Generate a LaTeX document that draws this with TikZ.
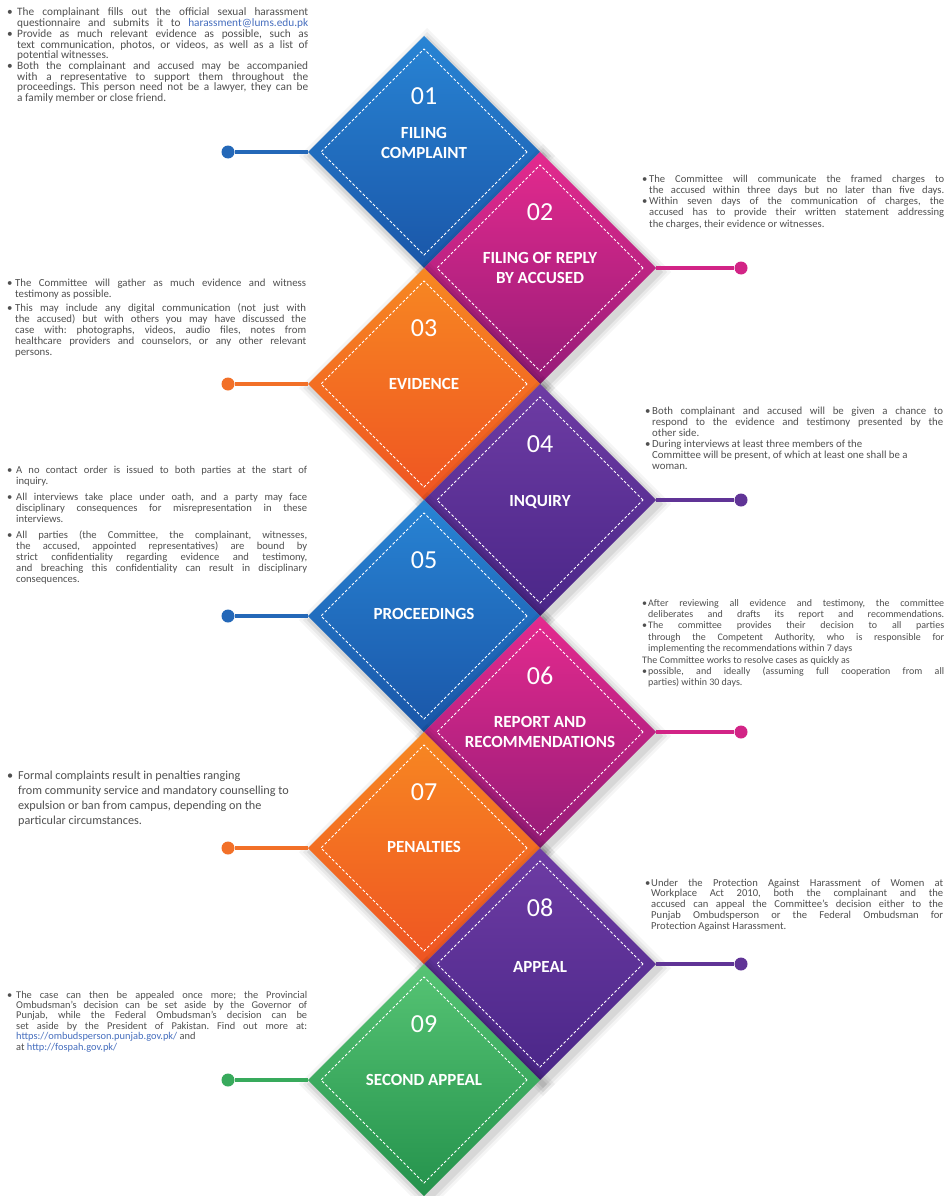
\documentclass[tikz,border=0pt]{standalone}
\usepackage{fontspec}
\setmainfont{Carlito}
\usetikzlibrary{shapes.geometric}
\definecolor{txt}{RGB}{80,80,80}
\definecolor{lnk}{RGB}{70,110,190}
\definecolor{blT}{RGB}{40,132,212}
\definecolor{blB}{RGB}{26,86,168}
\definecolor{blL}{RGB}{36,104,184}
\definecolor{mgT}{RGB}{228,42,142}
\definecolor{mgB}{RGB}{150,28,120}
\definecolor{mgL}{RGB}{210,36,134}
\definecolor{orT}{RGB}{247,136,34}
\definecolor{orB}{RGB}{239,84,34}
\definecolor{orL}{RGB}{242,112,40}
\definecolor{puT}{RGB}{110,60,164}
\definecolor{puB}{RGB}{74,38,136}
\definecolor{puL}{RGB}{96,52,150}
\definecolor{grT}{RGB}{86,196,116}
\definecolor{grB}{RGB}{36,146,76}
\definecolor{grL}{RGB}{56,170,92}
\newlength\bi
\newcommand\xInit[3]{\fontsize{#1}{#2}\selectfont\spaceskip=0pt\xspaceskip=0pt\frenchspacing\setlength\bi{#3}}
\newcommand\xBJ[1]{\noindent\hbox to\bi{\textbullet\hss}\hbox to\dimexpr\hsize-\bi\relax{#1}\par}
\newcommand\xCJ[1]{\noindent\hbox to\bi{}\hbox to\dimexpr\hsize-\bi\relax{#1}\par}
\newcommand\xCR[1]{\noindent\hbox to\bi{}#1\par}
\newcommand\xBR[1]{\noindent\hbox to\bi{\textbullet\hss}#1\par}
\newcommand\xNR[1]{\noindent #1\par}
\begin{document}
\begin{tikzpicture}[x=1pt,y=-1pt,
 dmd/.style={diamond,aspect=1,minimum width=232pt,minimum height=232pt,inner sep=0pt,outer sep=0pt},
 dsh/.style={diamond,aspect=1,minimum width=206pt,minimum height=206pt,inner sep=0pt,outer sep=0pt,draw=white,line width=1pt,dash pattern=on 2.8pt off 2pt},
 num/.style={text=white,font=\fontsize{26}{26}\selectfont,inner sep=0pt},
 ttl/.style={text=white,font=\fontsize{17}{20}\selectfont\bfseries,align=center,inner sep=0pt},
 conn/.style={line width=4pt},
 dotn/.style={circle,minimum size=13pt,inner sep=0pt},
 blk/.style={anchor=base west,inner sep=0pt,text=txt,text width=#1,align=justify},
]
\useasboundingbox (0,0) rectangle (952,1196);
\fill[white] (0,0) rectangle (952,1196);
\foreach \k/\cx/\cy/\cc in {1/424/152/bl,2/540/268/mg,3/424/384/or,4/540/500/pu,5/424/616/bl,6/540/732/mg,7/424/848/or,8/540/964/pu,9/424/1080/gr}{
  \foreach \s/\o in {12/0.04,8/0.05,4/0.07}{
    \fill[black,opacity=\o] (\cx+3,\cy+4-116-\s) -- (\cx+3+116+\s,\cy+4) -- (\cx+3,\cy+4+116+\s) -- (\cx+3-116-\s,\cy+4) -- cycle;
  }
  \node[dmd,top color=\cc T,bottom color=\cc B] (d\k) at (\cx,\cy) {};
  \node[dsh] (i\k) at (\cx,\cy) {};
  \node[num] (n\k) at (\cx,\cy-56) {0\k};
}
% connectors
\foreach \k/\cy/\cc in {1/152/bl,3/384/or,5/616/bl,7/848/or,9/1080/gr}{
  \node[dotn,fill=\cc L] (p\k) at (228,\cy) {};
  \draw[conn,\cc L] (d\k.west) -- (p\k);
}
\foreach \k/\cy/\cc in {2/268/mg,4/500/pu,6/732/mg,8/964/pu}{
  \node[dotn,fill=\cc L] (p\k) at (741,\cy) {};
  \draw[conn,\cc L] (d\k.east) -- (p\k);
}
% titles
\node[ttl] (t1) at (424,143) {FILING\\COMPLAINT};
\node[ttl] (t2) at (540,268) {FILING OF REPLY\\BY ACCUSED};
\node[ttl] (t3) at (424,384) {EVIDENCE};
\node[ttl] (t4) at (540,502) {INQUIRY};
\node[ttl] (t5) at (424,614) {PROCEEDINGS};
\node[ttl] (t6) at (540,732) {REPORT AND\\RECOMMENDATIONS};
\node[ttl] (t7) at (424,847) {PENALTIES};
\node[ttl] (t8) at (540,967) {APPEAL};
\node[ttl] (t9) at (424,1080) {SECOND APPEAL};
% text blocks
\node[blk=301pt] (b1) at (7,16) {\xInit{11.3}{10.7}{10pt}%
\xBJ{The complainant fills out the official sexual harassment}%
\xCJ{questionnaire and submits it to {\color{lnk}harassment@lums.edu.pk}}%
\xBJ{Provide as much relevant evidence as possible, such as}%
\xCJ{text communication, photos, or videos, as well as a list of}%
\xCR{potential witnesses.}%
\xBJ{Both the complainant and accused may be accompanied}%
\xCJ{with a representative to support them throughout the}%
\xCJ{proceedings. This person need not be a lawyer, they can be}%
\xCR{a family member or close friend.}};
\node[blk=302pt] (b2) at (642,182) {\xInit{10.6}{11.25}{7pt}%
\xBJ{The Committee will communicate the framed charges to}%
\xCJ{the accused within three days but no later than five days.}%
\xBJ{Within seven days of the communication of charges, the}%
\xCJ{accused has to provide their written statement addressing}%
\xCR{the charges, their evidence or witnesses.}};
\node[blk=299pt] (b3) at (7,286) {\xInit{10.8}{11}{8pt}%
\xBJ{The Committee will gather as much evidence and witness}%
\xCR{testimony as possible.}\vspace{3pt}%
\xBJ{This may include any digital communication (not just with}%
\xCJ{the accused) but with others you may have discussed the}%
\xCJ{case with: photographs, videos, audio files, notes from}%
\xCJ{healthcare providers and counselors, or any other relevant}%
\xCR{persons.}};
\node[blk=298pt] (b4) at (645,414) {\xInit{10.8}{11}{7pt}%
\xBJ{Both complainant and accused will be given a chance to}%
\xCJ{respond to the evidence and testimony presented by the}%
\xCR{other side.}%
\xBR{During interviews at least three members of the}%
\xCR{Committee will be present, of which at least one shall be a}%
\xCR{woman.}};
\node[blk=300pt] (b5) at (7,473) {\xInit{10.6}{11}{9pt}%
\xBJ{A no contact order is issued to both parties at the start of}%
\xCR{inquiry.}\vspace{5pt}%
\xBJ{All interviews take place under oath, and a party may face}%
\xCJ{disciplinary consequences for misrepresentation in these}%
\xCR{interviews.}\vspace{5pt}%
\xBJ{All parties (the Committee, the complainant, witnesses,}%
\xCJ{the accused, appointed representatives) are bound by}%
\xCJ{strict confidentiality regarding evidence and testimony,}%
\xCJ{and breaching this confidentiality can result in disciplinary}%
\xCR{consequences.}};
\node[blk=302pt] (b6) at (642,606) {\xInit{10}{11.4}{6pt}%
\xBJ{After reviewing all evidence and testimony, the committee}%
\xCJ{deliberates and drafts its report and recommendations.}%
\xBJ{The committee provides their decision to all parties}%
\xCJ{through the Competent Authority, who is responsible for}%
\xCR{implementing the recommendations within 7 days}%
\xNR{The Committee works to resolve cases as quickly as}%
\xBJ{possible, and ideally (assuming full cooperation from all}%
\xCR{parties) within 30 days.}};
\node[blk=300pt] (b7) at (7,779) {\xInit{12.2}{15}{11pt}%
\xBR{Formal complaints result in penalties ranging}%
\xCR{from community service and mandatory counselling to}%
\xCR{expulsion or ban from campus, depending on the}%
\xCR{particular circumstances.}};
\node[blk=298pt] (b8) at (645,886) {\xInit{10.6}{10.8}{6pt}%
\xBJ{Under the Protection Against Harassment of Women at}%
\xCJ{Workplace Act 2010, both the complainant and the}%
\xCJ{accused can appeal the Committee’s decision either to the}%
\xCJ{Punjab Ombudsperson or the Federal Ombudsman for}%
\xCR{Protection Against Harassment.}};
\node[blk=300pt] (b9) at (7,998) {\xInit{10.4}{10.4}{9pt}%
\xBJ{The case can then be appealed once more; the Provincial}%
\xCJ{Ombudsman’s decision can be set aside by the Governor of}%
\xCJ{Punjab, while the Federal Ombudsman’s decision can be}%
\xCJ{set aside by the President of Pakistan. Find out more at:}%
\xCR{{\color{lnk}https://ombudsperson.punjab.gov.pk/} and}%
\xCR{at {\color{lnk}http://fospah.gov.pk/}}};
\end{tikzpicture}
\end{document}
